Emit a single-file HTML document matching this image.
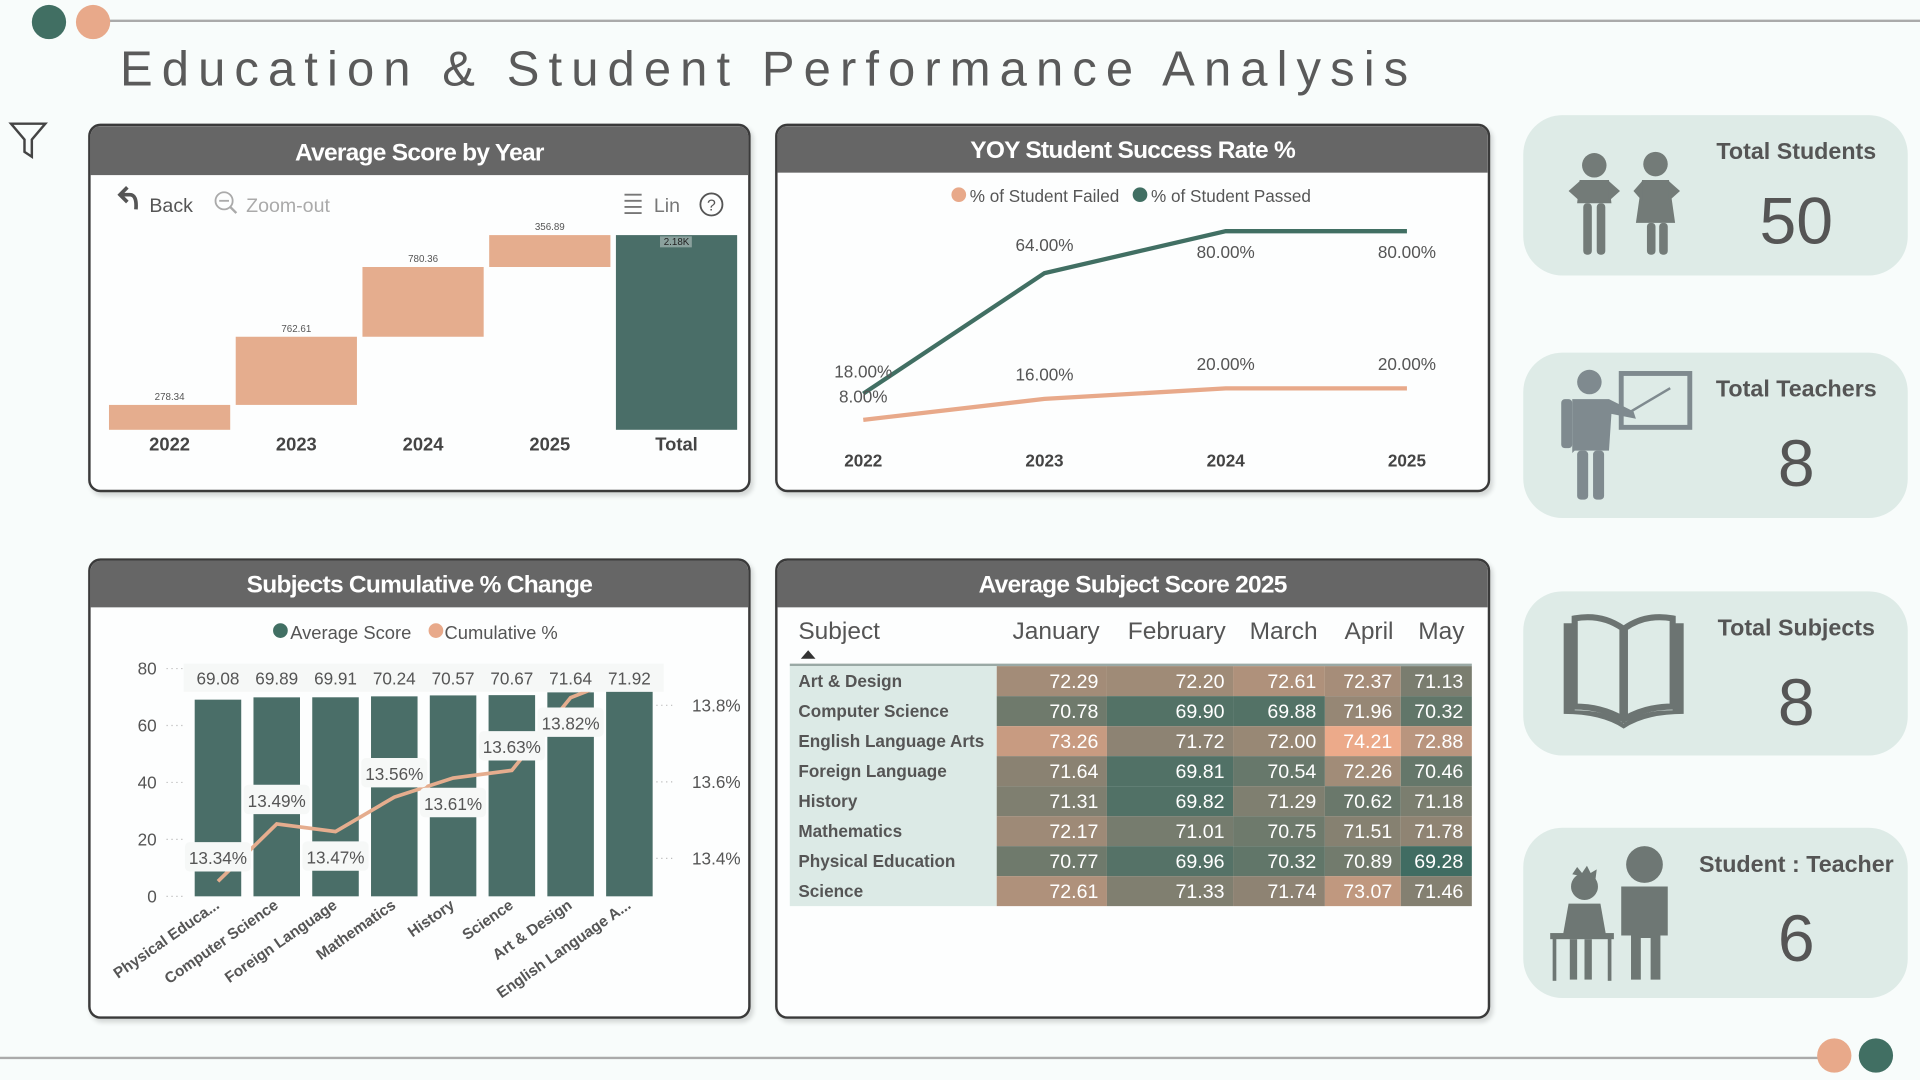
<!DOCTYPE html>
<html><head><meta charset="utf-8">
<style>
html,body{margin:0;padding:0;width:1920px;height:1080px;overflow:hidden;background:#f8fcfb;font-family:"Liberation Sans",sans-serif;}
#root{position:absolute;left:0;top:0;width:1568px;height:882px;transform:scale(1.22449);transform-origin:0 0;}
.panel{position:absolute;background:#fdfefe;border:2px solid #3a3a3a;border-radius:10px;overflow:hidden;box-shadow:2px 3px 4px rgba(0,0,0,0.15);}
.phead{position:absolute;left:0;top:0;right:0;height:38px;background:#666;color:#fff;font-weight:bold;font-size:20px;text-align:center;line-height:40px;letter-spacing:-0.6px;}
.card{position:absolute;left:1244px;width:314px;background:#deebe7;border-radius:32px;}
.card .ct{position:absolute;left:140px;right:8px;text-align:center;font-weight:bold;font-size:19px;color:#555;}
.card .cv{position:absolute;left:140px;right:8px;text-align:center;font-size:54px;color:#555;}
svg text{font-family:"Liberation Sans",sans-serif;}
</style></head>
<body>
<div id="root">
<svg width="1568" height="882" style="position:absolute;left:0;top:0">
  <line x1="88" y1="17" x2="1568" y2="17" stroke="#aaa" stroke-width="2"/>
  <circle cx="40" cy="18" r="14" fill="#416f63"/>
  <circle cx="76" cy="18" r="14" fill="#e8a98a"/>
  <line x1="0" y1="864" x2="1488" y2="864" stroke="#aaa" stroke-width="2"/>
  <circle cx="1498" cy="862" r="14" fill="#e8a98a"/>
  <circle cx="1532" cy="862" r="14" fill="#416f63"/>
  <text x="98" y="70" font-size="40" fill="#5a5a5a" textLength="1052" lengthAdjust="spacing">Education &amp; Student Performance Analysis</text>
  <path d="M9 101 L37 101 L26 114 L26 128 L20 124 L20 114 Z" fill="none" stroke="#444" stroke-width="2"/>
</svg>

<!-- Panel 1 -->
<div class="panel" style="left:72px;top:101px;width:537px;height:297px;">
  <div class="phead" style="height:40px;line-height:44px">Average Score by Year</div>
  <svg id="wf" width="537" height="297" style="position:absolute;left:0;top:0">
    <g><path d="M30 62 L24 56 L30 50 M24 56 L32 56 Q38 56 37 68" fill="none" stroke="#555" stroke-width="3"/><text x="48" y="70" font-size="16" fill="#555">Back</text></g>
    <g><circle cx="109" cy="61" r="7" fill="none" stroke="#aaa" stroke-width="1.5"/><line x1="105" y1="61" x2="113" y2="61" stroke="#aaa" stroke-width="1.5"/><line x1="114" y1="66" x2="119" y2="71" stroke="#aaa" stroke-width="2"/><text x="127" y="70" font-size="16" fill="#aaa">Zoom-out</text></g>
    <g><g stroke="#777" stroke-width="1.5"><line x1="436" y1="56" x2="450" y2="56"/><line x1="436" y1="61" x2="450" y2="61"/><line x1="436" y1="66" x2="450" y2="66"/><line x1="436" y1="71" x2="450" y2="71"/></g><text x="460" y="70" font-size="16" fill="#777">Lin</text></g>
    <g><circle cx="507" cy="64" r="9" fill="none" stroke="#555" stroke-width="1.5"/><text x="507" y="69" font-size="13" fill="#555" text-anchor="middle">?</text></g>
  </svg>
</div>

<!-- Panel 2 -->
<div class="panel" style="left:633px;top:101px;width:580px;height:297px;">
  <div class="phead">YOY Student Success Rate %</div>
  <svg id="ln" width="580" height="297" style="position:absolute;left:0;top:0"></svg>
</div>

<!-- Panel 3 -->
<div class="panel" style="left:72px;top:456px;width:537px;height:372px;">
  <div class="phead">Subjects Cumulative % Change</div>
  <svg id="cb" width="537" height="372" style="position:absolute;left:0;top:0"></svg>
</div>

<!-- Panel 4 -->
<div class="panel" style="left:633px;top:456px;width:580px;height:372px;">
  <div class="phead">Average Subject Score 2025</div>
  <svg id="mx" width="580" height="372" style="position:absolute;left:0;top:0"></svg>
</div>

<!-- Cards -->
<div class="card" style="top:94px;height:131px">
  <svg width="130" height="131" style="position:absolute;left:0;top:0">
    <g fill="#737b78">
      <circle cx="58" cy="41" r="10"/><path d="M46 53 H70 L72 72 H44 Z"/><path d="M37 62 L46 54 L46 70 Z M79 62 L70 54 L70 70 Z"/><rect x="49" y="72" width="7" height="42" rx="3"/><rect x="60" y="72" width="7" height="42" rx="3"/>
      <circle cx="108" cy="40" r="10"/><path d="M97 53 H119 L124 88 H92 Z"/><path d="M90 62 L97 54 L97 70 Z M128 62 L119 54 L119 70 Z"/><rect x="101" y="88" width="7" height="26" rx="3"/><rect x="111" y="88" width="7" height="26" rx="3"/>
    </g>
  </svg>
  <div class="ct" style="top:20px">Total Students</div>
  <div class="cv" style="top:56px">50</div>
</div>
<div class="card" style="top:288px;height:135px">
  <svg width="140" height="135" style="position:absolute;left:0;top:0">
    <g fill="#7f8a8f">
      <circle cx="54" cy="24" r="10"/><path d="M40 38 H70 L90 48 L92 54 L72 50 L70 80 H42 L40 82 Z"/><rect x="31" y="38" width="9" height="40" rx="3"/><rect x="44" y="80" width="9" height="40" rx="3"/><rect x="57" y="80" width="9" height="40" rx="3"/>
    </g>
    <rect x="80" y="17" width="56" height="44" fill="none" stroke="#7f8a8f" stroke-width="4"/>
    <line x1="88" y1="48" x2="120" y2="29" stroke="#7f8a8f" stroke-width="2"/>
  </svg>
  <div class="ct" style="top:20px">Total Teachers</div>
  <div class="cv" style="top:60px">8</div>
</div>
<div class="card" style="top:483px;height:134px">
  <svg width="140" height="134" style="position:absolute;left:0;top:0">
    <path d="M33 26 H42 V97 Q70 97 82 108 Q94 97 122 97 V26 H131 V100 Q100 100 82 112 Q64 100 33 100 Z" fill="#6c7472"/>
    <path d="M42 22 Q64 18 81 30 V104 Q64 94 42 94 Z M122 22 Q100 18 83 30 V104 Q100 94 122 94 Z" fill="none" stroke="#6c7472" stroke-width="5"/>
  </svg>
  <div class="ct" style="top:20px">Total Subjects</div>
  <div class="cv" style="top:60px">8</div>
</div>
<div class="card" style="top:676px;height:139px">
  <svg width="140" height="139" style="position:absolute;left:0;top:0">
    <g fill="#6e7774">
      <circle cx="50" cy="48" r="11"/><path d="M40 38 L44 32 L48 37 L52 31 L55 37 L60 34 L59 42 Z"/>
      <path d="M37 62 H63 L68 90 H32 Z"/><rect x="22" y="86" width="52" height="5"/><rect x="24" y="90" width="3" height="35"/><rect x="69" y="90" width="3" height="35"/><rect x="38" y="91" width="6" height="33"/><rect x="50" y="91" width="6" height="33"/>
      <circle cx="99" cy="30" r="15"/><path d="M80 48 H118 V88 H112 V124 H104 V90 H96 V124 H88 V88 H80 Z"/>
    </g>
  </svg>
  <div class="ct" style="top:20px">Student : Teacher</div>
  <div class="cv" style="top:60px">6</div>
</div>
</div>

<script>
const NS="http://www.w3.org/2000/svg";
function mk(parent,tag,attrs,text){const e=document.createElementNS(NS,tag);for(const k in attrs)e.setAttribute(k,attrs[k]);if(text!==undefined)e.textContent=text;parent.appendChild(e);return e;}

/* ---------- Waterfall ---------- */
const wfCategories=["2022","2023","2024","2025"];
const wfValues=[278.34,762.61,780.36,356.89];
const wfTotalLabel="2.18K";
(function(){
  const svg=document.getElementById('wf');
  const total=wfValues.reduce((a,b)=>a+b,0);
  const base=248, top=89;
  const y=v=>base-(v/total)*(base-top);
  const x0=15, step=103.5, bw=99;
  let cum=0;
  wfValues.forEach((v,i)=>{
    const x=x0+i*step;
    const r=mk(svg,'rect',{x:x,y:y(cum+v),width:bw,height:y(cum)-y(cum+v),fill:'#e5ad8e'});
    
    
    const t=mk(svg,'text',{x:x+bw/2,y:y(cum+v)-4,'font-size':8,fill:'#555','text-anchor':'middle'},v.toFixed(2));
    
    
    const a=mk(svg,'text',{x:x+bw/2,y:265,'font-size':15,'font-weight':'bold',fill:'#444','text-anchor':'middle'},wfCategories[i]);
    
    
    cum+=v;
  });
  const xt=x0+4*step;
  const tr=mk(svg,'rect',{x:xt,y:y(total),width:bw,height:base-y(total),fill:'#4a6e68'});
  
  
  mk(svg,'rect',{x:xt+36,y:y(total)+1,width:26,height:9,fill:'#8aa19d'});
  const tt=mk(svg,'text',{x:xt+bw/2,y:y(total)+8,'font-size':8,fill:'#222','text-anchor':'middle'},wfTotalLabel);
  
  
  const ta=mk(svg,'text',{x:xt+bw/2,y:265,'font-size':15,'font-weight':'bold',fill:'#444','text-anchor':'middle'},'Total');
  
  
})();

/* ---------- Line chart ---------- */
const lnYears=["2022","2023","2024","2025"];
const lnPassed=[18,64,80,80];
const lnFailed=[8,16,20,20];
(function(){
  const svg=document.getElementById('ln');
  const x=i=>70+i*148;
  const y=v=>257-v*2.14;
  const lg=mk(svg,'g',{});
  
  
  mk(lg,'circle',{cx:148,cy:56,r:6,fill:'#e8a98a'});
  mk(lg,'text',{x:157,y:62,'font-size':14,fill:'#555'},'% of Student Failed');
  mk(lg,'circle',{cx:296,cy:56,r:6,fill:'#416f63'});
  mk(lg,'text',{x:305,y:62,'font-size':14,fill:'#555'},'% of Student Passed');
  const pf=mk(svg,'polyline',{points:lnFailed.map((v,i)=>x(i)+','+y(v)).join(' '),fill:'none',stroke:'#e8a98a','stroke-width':3.5});
  
  
  const pp=mk(svg,'polyline',{points:lnPassed.map((v,i)=>x(i)+','+y(v)).join(' '),fill:'none',stroke:'#416f63','stroke-width':3.5});
  
  
  lnYears.forEach((yr,i)=>{
    const pdy=(i===0)?-13:(i===1?-18:22);
    const t1=mk(svg,'text',{x:x(i),y:y(lnPassed[i])+pdy,'font-size':14,fill:'#555','text-anchor':'middle'},lnPassed[i].toFixed(2)+'%');
    
    
    const fdy=(i===0)?-14:-15;
    const t2=mk(svg,'text',{x:x(i),y:y(lnFailed[i])+fdy,'font-size':14,fill:'#555','text-anchor':'middle'},lnFailed[i].toFixed(2)+'%');
    
    
    const a=mk(svg,'text',{x:x(i),y:278,'font-size':14,'font-weight':'bold',fill:'#444','text-anchor':'middle'},yr);
    
    
  });
})();

/* ---------- Combo chart ---------- */
const cbSubjects=["Physical Educa...","Computer Science","Foreign Language","Mathematics","History","Science","Art & Design","English Language A..."];
const cbAvgScore=[69.08,69.89,69.91,70.24,70.57,70.67,71.64,71.92];
const cbCumPct=[13.34,13.49,13.47,13.56,13.61,13.63,13.82,13.88];
const cbLeftTicks=[0,20,40,60,80];
const cbRightTicks=[13.4,13.6,13.8];
(function(){
  const svg=document.getElementById('cb');
  const yL=v=>274-v*2.325;
  const yR=v=>243-(v-13.4)*312.5;
  const xc=i=>104+i*48;
  const lg=mk(svg,'g',{});
  
  
  mk(lg,'circle',{cx:155,cy:57,r:6,fill:'#416f63'});
  mk(lg,'text',{x:163,y:64,'font-size':15,fill:'#555'},'Average Score');
  mk(lg,'circle',{cx:282,cy:57,r:6,fill:'#e8a98a'});
  mk(lg,'text',{x:289,y:64,'font-size':15,fill:'#555'},'Cumulative %');
  cbLeftTicks.forEach(t=>{
    const e=mk(svg,'text',{x:54,y:yL(t)+5,'font-size':14,fill:'#555','text-anchor':'end'},t);
    
    
    mk(svg,'line',{x1:62,y1:yL(t),x2:78,y2:yL(t),stroke:'#bbb','stroke-dasharray':'1 3'});
  });
  cbRightTicks.forEach(t=>{
    const e=mk(svg,'text',{x:511,y:yR(t)+5,'font-size':14,fill:'#555','text-anchor':'middle'},t.toFixed(1)+'%');
    
    
    mk(svg,'line',{x1:462,y1:yR(t),x2:478,y2:yR(t),stroke:'#bbb','stroke-dasharray':'1 3'});
  });
  cbAvgScore.forEach((v,i)=>{
    const b=mk(svg,'rect',{x:xc(i)-19,y:yL(v),width:38,height:yL(0)-yL(v),fill:'#4a6e68'});
    
    
  });
  const pl=mk(svg,'polyline',{points:cbCumPct.map((v,i)=>xc(i)+','+yR(v)).join(' '),fill:'none',stroke:'#e5ad8e','stroke-width':3});
  
  
  mk(svg,'rect',{x:76,y:84,width:392,height:23,fill:'#f6f8f7'});
  cbAvgScore.forEach((v,i)=>{
    const t=mk(svg,'text',{x:xc(i),y:101,'font-size':14,fill:'#555','text-anchor':'middle'},v.toFixed(2));
    
    
  });
  const offs=[-19,-19,21,-19,21,-19,21];
  cbCumPct.forEach((v,i)=>{
    if(i>=7)return;
    const cy=yR(v)+offs[i];
    mk(svg,'rect',{x:xc(i)-27,y:cy-13,width:54,height:24,rx:4,fill:'#f6f8f7'});
    const t=mk(svg,'text',{x:xc(i),y:cy+5,'font-size':14,fill:'#555','text-anchor':'middle'},v.toFixed(2)+'%');
    
    
  });
  cbSubjects.forEach((s,i)=>{
    const t=mk(svg,'text',{x:xc(i)+2,y:283,'font-size':12.5,'font-weight':'bold',fill:'#555','text-anchor':'end',transform:'rotate(-35 '+(xc(i)+2)+' 283)'},s);
    
    
  });
})();

/* ---------- Matrix ---------- */
const mxSubjects=["Art & Design","Computer Science","English Language Arts","Foreign Language","History","Mathematics","Physical Education","Science"];
const mxMonths=["January","February","March","April","May"];
const mxJan=[72.29,70.78,73.26,71.64,71.31,72.17,70.77,72.61];
const mxFeb=[72.20,69.90,71.72,69.81,69.82,71.01,69.96,71.33];
const mxMar=[72.61,69.88,72.00,70.54,71.29,70.75,70.32,71.74];
const mxApr=[72.37,71.96,74.21,72.26,70.62,71.51,70.89,73.07];
const mxMay=[71.13,70.32,72.88,70.46,71.18,71.78,69.28,71.46];
(function(){
  const svg=document.getElementById('mx');
  const cols=[mxJan,mxFeb,mxMar,mxApr,mxMay];
  const colX=[179,269,372,447,509,567];
  const all=cols.flat();const mn=Math.min(...all),mx=Math.max(...all);
  const lerp=(a,b,t)=>a.map((c,i)=>Math.round(c+(b[i]-c)*t));
  const c0=[64,108,98],c1=[138,130,114],c2=[236,170,138];
  const col=v=>{const t=(v-mn)/(mx-mn);const mid=0.48;const c=t<mid?lerp(c0,c1,t/mid):lerp(c1,c2,(t-mid)/(1-mid));return 'rgb('+c.join(',')+')';};
  const h=mk(svg,'text',{x:17,y:64,'font-size':20,fill:'#555'},'Subject');
  
  
  mk(svg,'path',{d:'M19 80 L25 73 L31 80 Z',fill:'#333'});
  mxMonths.forEach((m,j)=>{
    const t=mk(svg,'text',{x:colX[j+1]-6,y:64,'font-size':20,fill:'#555','text-anchor':'end'},m);
    
    
  });
  mk(svg,'line',{x1:10,y1:85,x2:567,y2:85,stroke:'#9aa9a5','stroke-width':2});
  const rh=24.5, y0=86;
  mk(svg,'rect',{x:10,y:y0,width:colX[0]-10,height:rh*8,fill:'#dceae6'});
  mxSubjects.forEach((s,i)=>{
    const yy=y0+i*rh;
    const t=mk(svg,'text',{x:17,y:yy+17,'font-size':14,'font-weight':'bold',fill:'#555'},s);
    
    
    cols.forEach((c,j)=>{
      const r=mk(svg,'rect',{x:colX[j],y:yy,width:colX[j+1]-colX[j],height:rh,fill:col(c[i])});
      
      
      const v=mk(svg,'text',{x:colX[j+1]-7,y:yy+18,'font-size':16,fill:'#fff','text-anchor':'end'},c[i].toFixed(2));
      
      
    });
  });
})();
</script>
</body></html>
